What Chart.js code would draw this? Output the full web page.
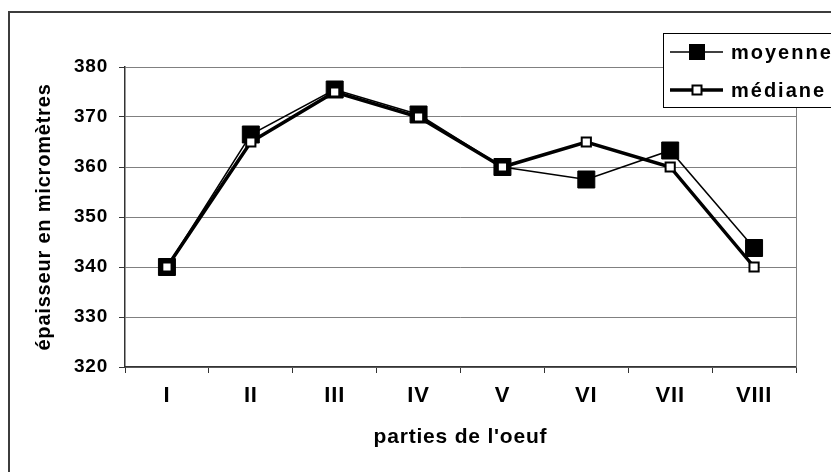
<!DOCTYPE html>
<html>
<head>
<meta charset="utf-8">
<script src="https://cdn.jsdelivr.net/npm/chart.js@4"></script>
<style>
  html, body { margin: 0; padding: 0; background: #fff; }
  #wrap { width: 831px; height: 472px; position: relative; }
</style>
</head>
<body>
<div id="wrap"><canvas id="c" width="831" height="472"></canvas></div>
<script>
// Egg shell thickness by part of the egg (micrometres)
const parties = ['I', 'II', 'III', 'IV', 'V', 'VI', 'VII', 'VIII'];
const moyenne = [340, 366.5, 375.5, 370.5, 360, 357.5, 363.3, 343.8];
const mediane = [340, 365, 375, 370, 360, 365, 360, 340];
const seriesNames = ['moyenne', 'médiane'];
const yMin = 320, yMax = 380, yStep = 10;

const FONT = 'Liberation Sans, Arial, Helvetica, sans-serif';

// Wide, slightly spaced lettering for all chart text
const spacing = {
  id: 'spacing',
  beforeUpdate(chart) { chart.ctx.letterSpacing = '0.8px'; },
  beforeDraw(chart) { chart.ctx.letterSpacing = '0.8px'; }
};

// White background and the outer frame (left and top edges visible)
const frame = {
  id: 'frame',
  beforeDraw(chart) {
    const ctx = chart.ctx;
    ctx.save();
    ctx.fillStyle = '#fff';
    ctx.fillRect(0, 0, chart.width, chart.height);
    ctx.strokeStyle = '#3c3c3c';
    ctx.lineWidth = 2;
    ctx.strokeRect(9, 12, chart.width + 20, chart.height + 20);
    ctx.restore();
  },
  beforeDatasetsDraw(chart) {
    // right edge of the plot area
    const {ctx, chartArea: a} = chart;
    ctx.save();
    ctx.strokeStyle = '#808080';
    ctx.lineWidth = 1;
    ctx.beginPath();
    ctx.moveTo(Math.round(a.right) + 0.5, a.top);
    ctx.lineTo(Math.round(a.right) + 0.5, a.bottom);
    ctx.stroke();
    ctx.restore();
  }
};

// Boxed legend in the top-right corner, built from the datasets
const boxLegend = {
  id: 'boxLegend',
  afterDraw(chart) {
    const ctx = chart.ctx;
    const x0 = 663, y0 = 33, h = 74;
    ctx.save();
    ctx.fillStyle = '#fff';
    ctx.fillRect(x0, y0, chart.width - x0 + 10, h);
    ctx.strokeStyle = '#000';
    ctx.lineWidth = 1;
    ctx.strokeRect(x0 + 0.5, y0 + 0.5, chart.width - x0 + 10, h);
    const rows = [52, 90];
    chart.data.datasets.forEach((ds, i) => {
      const y = rows[i];
      ctx.strokeStyle = ds.borderColor;
      ctx.lineWidth = ds.borderWidth;
      ctx.beginPath();
      ctx.moveTo(670, y);
      ctx.lineTo(723, y);
      ctx.stroke();
      const s = ds.legendMarker;
      ctx.fillStyle = ds.pointBackgroundColor;
      ctx.fillRect(697 - s / 2, y - s / 2, s, s);
      ctx.lineWidth = ds.pointBorderWidth;
      ctx.strokeStyle = ds.pointBorderColor;
      ctx.strokeRect(697 - s / 2, y - s / 2, s, s);
      ctx.letterSpacing = '2px';
      ctx.fillStyle = '#000';
      ctx.font = 'bold 20px ' + FONT;
      ctx.textBaseline = 'middle';
      ctx.textAlign = 'left';
      ctx.fillText(ds.label, 731, y + 1);
    });
    ctx.restore();
  }
};

new Chart(document.getElementById('c'), {
  type: 'line',
  data: {
    labels: parties,
    datasets: [
      {
        label: seriesNames[0],
        data: moyenne,
        borderColor: '#000',
        borderWidth: 1.5,
        pointStyle: 'rect',
        pointRadius: 12,
        pointBackgroundColor: '#000',
        pointBorderColor: '#000',
        pointBorderWidth: 1,
        legendMarker: 15,
        tension: 0,
        order: 2
      },
      {
        label: seriesNames[1],
        data: mediane,
        borderColor: '#000',
        borderWidth: 3.5,
        pointStyle: 'rect',
        pointRadius: 6.5,
        pointBackgroundColor: '#fff',
        pointBorderColor: '#000',
        pointBorderWidth: 2,
        legendMarker: 9,
        tension: 0,
        order: 1
      }
    ]
  },
  options: {
    responsive: false,
    animation: false,
    layout: { padding: { top: 67, right: 35, left: 0, bottom: 0 } },
    plugins: {
      legend: { display: false },
      tooltip: { enabled: false }
    },
    scales: {
      x: {
        offset: true,
        grid: {
          offset: true,
          drawOnChartArea: false,
          drawTicks: true,
          tickLength: 6,
          tickColor: '#333'
        },
        border: { color: '#333', width: 1.5 },
        ticks: {
          color: '#000',
          padding: 10,
          maxRotation: 0,
          font: { family: FONT, size: 22, weight: 'bold' }
        },
        title: {
          display: true,
          text: "parties de l'oeuf",
          color: '#000',
          padding: { top: 0, bottom: 22 },
          font: { family: FONT, size: 21, weight: 'bold' }
        },
        afterFit(scale) { scale.height = 105; }
      },
      y: {
        min: yMin,
        max: yMax,
        ticks: {
          stepSize: yStep,
          color: '#000',
          padding: 11,
          font: { family: FONT, size: 19, weight: 'bold' }
        },
        grid: {
          color: '#808080',
          lineWidth: 1,
          tickLength: 6,
          tickColor: '#333'
        },
        border: { color: '#333', width: 1.5 },
        title: {
          display: true,
          text: 'épaisseur en micromètres',
          color: '#000',
          padding: { top: 32, bottom: 0 },
          font: { family: FONT, size: 20, weight: 'bold' }
        },
        afterFit(scale) { scale.width = 125; }
      }
    }
  },
  plugins: [spacing, frame, boxLegend]
});
</script>
</body>
</html>
